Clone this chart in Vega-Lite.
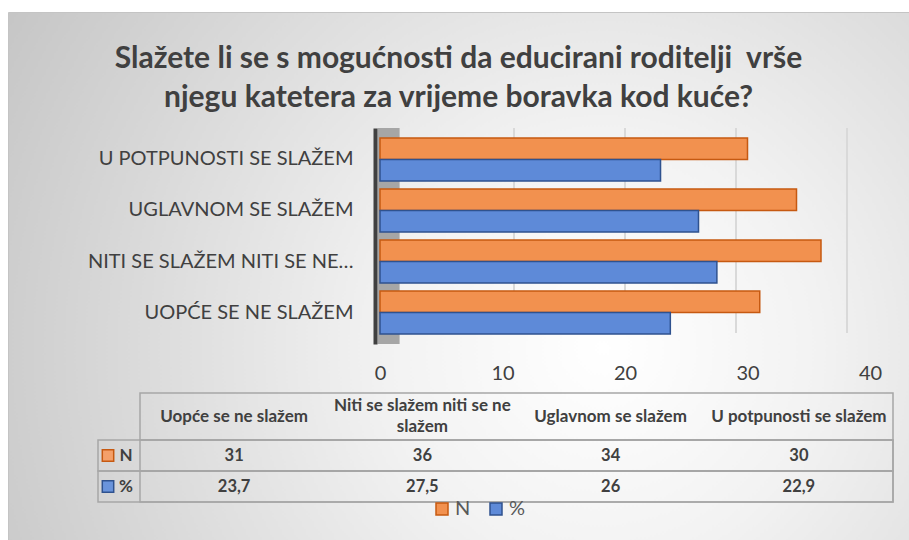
{
  "$schema": "https://vega.github.io/schema/vega-lite/v6.json",
  "width": 901,
  "height": 528,
  "autosize": {"type": "none"},
  "padding": {"left": 8, "top": 12, "right": 0, "bottom": 0},
  "background": "#ffffff",
  "view": {
    "stroke": "#c4c4c4",
    "strokeWidth": 1,
    "fill": {
      "gradient": "radial",
      "x1": 0.66, "y1": 0.58, "r1": 0,
      "x2": 0.66, "y2": 0.58, "r2": 0.8,
      "stops": [
        {"offset": 0, "color": "#ffffff"},
        {"offset": 0.3, "color": "#f2f2f2"},
        {"offset": 0.65, "color": "#dadada"},
        {"offset": 1, "color": "#c2c2c2"}
      ]
    }
  },
  "config": {
    "font": "Lato",
    "axis": {"labelFont": "Lato"},
    "legend": {"labelFont": "Lato"}
  },
  "datasets": {
    "bars": [
      {"cat": "Uopće se ne slažem", "label": "UOPĆE SE NE SLAŽEM", "series": "N", "value": 31, "text": "31"},
      {"cat": "Uopće se ne slažem", "label": "UOPĆE SE NE SLAŽEM", "series": "%", "value": 23.7, "text": "23,7"},
      {"cat": "Niti se slažem niti se ne slažem", "label": "NITI SE SLAŽEM NITI SE NE…", "series": "N", "value": 36, "text": "36"},
      {"cat": "Niti se slažem niti se ne slažem", "label": "NITI SE SLAŽEM NITI SE NE…", "series": "%", "value": 27.5, "text": "27,5"},
      {"cat": "Uglavnom se slažem", "label": "UGLAVNOM SE SLAŽEM", "series": "N", "value": 34, "text": "34"},
      {"cat": "Uglavnom se slažem", "label": "UGLAVNOM SE SLAŽEM", "series": "%", "value": 26, "text": "26"},
      {"cat": "U potpunosti se slažem", "label": "U POTPUNOSTI SE SLAŽEM", "series": "N", "value": 30, "text": "30"},
      {"cat": "U potpunosti se slažem", "label": "U POTPUNOSTI SE SLAŽEM", "series": "%", "value": 22.9, "text": "22,9"}
    ],
    "cats": [
      {"cat": "Uopće se ne slažem", "header": "Uopće se ne slažem", "lines": 1},
      {"cat": "Niti se slažem niti se ne slažem", "header": ["Niti se slažem niti se ne", "slažem"], "lines": 2},
      {"cat": "Uglavnom se slažem", "header": "Uglavnom se slažem", "lines": 1},
      {"cat": "U potpunosti se slažem", "header": "U potpunosti se slažem", "lines": 1}
    ],
    "ticks": [{"v": 10}, {"v": 20}, {"v": 30}, {"v": 40}],
    "titles": [
      {"line": "Slažete li se s mogućnosti da educirani roditelji\u00a0 vrše"},
      {"line": "njegu katetera za vrijeme boravka kod kuće?"}
    ]
  },
  "resolve": {
    "scale": {"x": "independent", "y": "independent", "color": "independent", "stroke": "independent", "yOffset": "independent"},
    "axis": {"x": "independent", "y": "independent"},
    "legend": {"color": "independent", "stroke": "independent"}
  },
  "layer": [
    {
      "data": {"name": "ticks"},
      "mark": {"type": "rect", "fill": "#d9d9d9"},
      "encoding": {
        "x": {"field": "v", "type": "ordinal", "scale": {"domain": [10, 20, 30, 40], "range": [450.5, 894.5], "paddingInner": 0.982, "paddingOuter": 0.491}, "axis": null},
        "y": {"datum": "grid", "type": "nominal", "scale": {"domain": ["grid"], "range": [116, 321], "paddingInner": 0, "paddingOuter": 0}, "axis": null}
      }
    },
    {
      "data": {"values": [{}]},
      "mark": {"type": "rect", "fill": "#a6a6a6"},
      "encoding": {
        "x": {"datum": -0.2, "type": "quantitative", "scale": {"domain": [0, 40], "range": [372, 862], "nice": false, "zero": false}, "axis": null},
        "x2": {"datum": 1.6},
        "y": {"datum": "wall", "type": "nominal", "scale": {"domain": ["wall"], "range": [116, 332], "paddingInner": 0, "paddingOuter": 0}, "axis": null}
      }
    },
    {
      "data": {"name": "bars"},
      "mark": {"type": "bar", "orient": "horizontal", "strokeWidth": 1.5},
      "encoding": {
        "y": {
          "field": "label", "type": "nominal",
          "scale": {"domain": ["U POTPUNOSTI SE SLAŽEM", "UGLAVNOM SE SLAŽEM", "NITI SE SLAŽEM NITI SE NE…", "UOPĆE SE NE SLAŽEM"], "range": [116, 332], "paddingInner": 0.16, "paddingOuter": 0.1976},
          "axis": {"orient": "left", "title": null, "offset": -367, "domainColor": "#404040", "domainWidth": 4, "ticks": false, "tickSize": 0, "labelPadding": 22, "labelFontSize": 20, "labelColor": "#404040", "labelLimit": 400, "grid": false, "zindex": 1}
        },
        "yOffset": {"field": "series", "type": "nominal", "scale": {"domain": ["N", "%"], "paddingInner": 0, "paddingOuter": 0}},
        "x": {
          "field": "value", "type": "quantitative",
          "scale": {"domain": [0, 40], "range": [372, 862], "nice": false, "zero": false},
          "axis": {"orient": "bottom", "title": null, "offset": -195, "values": [0, 10, 20, 30, 40], "domain": false, "ticks": false, "tickSize": 0, "grid": false, "labelPadding": 18, "labelFontSize": 20, "labelColor": "#404040", "labelFlush": false}
        },
        "color": {
          "field": "series", "type": "nominal",
          "scale": {"domain": ["N", "%"], "range": ["#F2914F", "#5E8AD8"]},
          "legend": {"orient": "none", "legendX": 424, "legendY": 487, "direction": "horizontal", "title": null, "symbolType": "square", "symbolSize": 144, "symbolStrokeWidth": 1.5, "labelFontSize": 20, "labelColor": "#595959", "columnPadding": 15, "labelOffset": 3}
        },
        "stroke": {
          "field": "series", "type": "nominal",
          "scale": {"domain": ["N", "%"], "range": ["#C65911", "#2F528F"]},
          "legend": {"orient": "none", "legendX": 424, "legendY": 487, "direction": "horizontal", "title": null, "symbolType": "square", "symbolSize": 144, "symbolStrokeWidth": 1.5, "labelFontSize": 20, "labelColor": "#595959", "columnPadding": 15, "labelOffset": 3}
        }
      }
    },
    {
      "data": {"name": "titles"},
      "mark": {"type": "text", "fontWeight": "bold", "fontSize": 30, "color": "#404040", "align": "center", "baseline": "middle"},
      "encoding": {
        "y": {"field": "line", "type": "nominal", "sort": null, "scale": {"domain": ["Slažete li se s mogućnosti da educirani roditelji\u00a0 vrše", "njegu katetera za vrijeme boravka kod kuće?"], "range": [27, 105], "paddingInner": 0, "paddingOuter": 0}, "axis": null},
        "text": {"field": "line"}
      }
    },
    {
      "data": {"values": [{}]},
      "mark": {"type": "rect", "fill": "transparent", "stroke": "#a6a6a6", "strokeWidth": 1.5},
      "encoding": {
        "x": {"datum": "table", "type": "nominal", "scale": {"domain": ["table"], "range": [132, 885], "paddingInner": 0, "paddingOuter": 0}, "axis": null},
        "y": {"datum": "header", "type": "nominal", "scale": {"domain": ["header"], "range": [381, 428], "paddingInner": 0, "paddingOuter": 0}, "axis": null}
      }
    },
    {
      "data": {"name": "bars"},
      "transform": [{"filter": "datum.cat === 'Uopće se ne slažem'"}],
      "mark": {"type": "rect", "fill": "transparent", "stroke": "#a6a6a6", "strokeWidth": 1.5},
      "encoding": {
        "x": {"datum": "table", "type": "nominal", "scale": {"domain": ["table"], "range": [90, 885], "paddingInner": 0, "paddingOuter": 0}, "axis": null},
        "y": {"field": "series", "type": "nominal", "scale": {"domain": ["N", "%"], "range": [428, 490], "paddingInner": 0, "paddingOuter": 0}, "axis": null}
      }
    },
    {
      "data": {"name": "bars"},
      "transform": [{"filter": "datum.cat === 'Uopće se ne slažem'"}],
      "mark": {"type": "rect", "fill": "transparent", "stroke": "#a6a6a6", "strokeWidth": 1.5},
      "encoding": {
        "x": {"datum": "table", "type": "nominal", "scale": {"domain": ["table"], "range": [132, 885], "paddingInner": 0, "paddingOuter": 0}, "axis": null},
        "y": {"field": "series", "type": "nominal", "scale": {"domain": ["N", "%"], "range": [428, 490], "paddingInner": 0, "paddingOuter": 0}, "axis": null}
      }
    },
    {
      "data": {"name": "cats"},
      "transform": [{"filter": "datum.lines === 1"}],
      "mark": {"type": "text", "fontWeight": "bold", "fontSize": 17, "color": "#404040", "align": "center", "baseline": "middle"},
      "encoding": {
        "x": {"field": "cat", "type": "nominal", "scale": {"domain": ["Uopće se ne slažem", "Niti se slažem niti se ne slažem", "Uglavnom se slažem", "U potpunosti se slažem"], "range": [132, 885], "paddingInner": 0, "paddingOuter": 0}, "axis": null},
        "y": {"datum": "header", "type": "nominal", "scale": {"domain": ["header"], "range": [381, 428], "paddingInner": 0, "paddingOuter": 0}, "axis": null},
        "text": {"field": "header"}
      }
    },
    {
      "data": {"name": "cats"},
      "transform": [{"filter": "datum.lines === 2"}],
      "mark": {"type": "text", "fontWeight": "bold", "fontSize": 17, "color": "#404040", "lineHeight": 21, "align": "center", "baseline": "middle", "dy": -10.5},
      "encoding": {
        "x": {"field": "cat", "type": "nominal", "scale": {"domain": ["Uopće se ne slažem", "Niti se slažem niti se ne slažem", "Uglavnom se slažem", "U potpunosti se slažem"], "range": [132, 885], "paddingInner": 0, "paddingOuter": 0}, "axis": null},
        "y": {"datum": "header", "type": "nominal", "scale": {"domain": ["header"], "range": [381, 428], "paddingInner": 0, "paddingOuter": 0}, "axis": null},
        "text": {"field": "header"}
      }
    },
    {
      "data": {"name": "bars"},
      "mark": {"type": "text", "fontWeight": "bold", "fontSize": 16.5, "color": "#404040", "align": "center", "baseline": "middle"},
      "encoding": {
        "x": {"field": "cat", "type": "nominal", "scale": {"domain": ["Uopće se ne slažem", "Niti se slažem niti se ne slažem", "Uglavnom se slažem", "U potpunosti se slažem"], "range": [132, 885], "paddingInner": 0, "paddingOuter": 0}, "axis": null},
        "y": {"field": "series", "type": "nominal", "scale": {"domain": ["N", "%"], "range": [428, 490], "paddingInner": 0, "paddingOuter": 0}, "axis": null},
        "text": {"field": "text"}
      }
    },
    {
      "data": {"name": "bars"},
      "transform": [{"filter": "datum.cat === 'Uopće se ne slažem'"}],
      "mark": {"type": "point", "shape": "square", "filled": true, "size": 130, "strokeWidth": 1.5, "opacity": 1},
      "encoding": {
        "x": {"datum": "key", "type": "nominal", "scale": {"domain": ["key"], "range": [94, 106], "paddingInner": 0, "paddingOuter": 0}, "axis": null},
        "y": {"field": "series", "type": "nominal", "scale": {"domain": ["N", "%"], "range": [428, 490], "paddingInner": 0, "paddingOuter": 0}, "axis": null},
        "color": {"field": "series", "type": "nominal", "scale": {"domain": ["N", "%"], "range": ["#F4A06A", "#6A94DC"]}, "legend": null},
        "stroke": {"field": "series", "type": "nominal", "scale": {"domain": ["N", "%"], "range": ["#C65911", "#2F528F"]}, "legend": null}
      }
    },
    {
      "data": {"name": "bars"},
      "transform": [{"filter": "datum.cat === 'Uopće se ne slažem'"}],
      "mark": {"type": "text", "fontWeight": "bold", "fontSize": 17, "color": "#404040", "align": "center", "baseline": "middle"},
      "encoding": {
        "x": {"datum": "name", "type": "nominal", "scale": {"domain": ["name"], "range": [112, 124], "paddingInner": 0, "paddingOuter": 0}, "axis": null},
        "y": {"field": "series", "type": "nominal", "scale": {"domain": ["N", "%"], "range": [428, 490], "paddingInner": 0, "paddingOuter": 0}, "axis": null},
        "text": {"field": "series"}
      }
    }
  ]
}
